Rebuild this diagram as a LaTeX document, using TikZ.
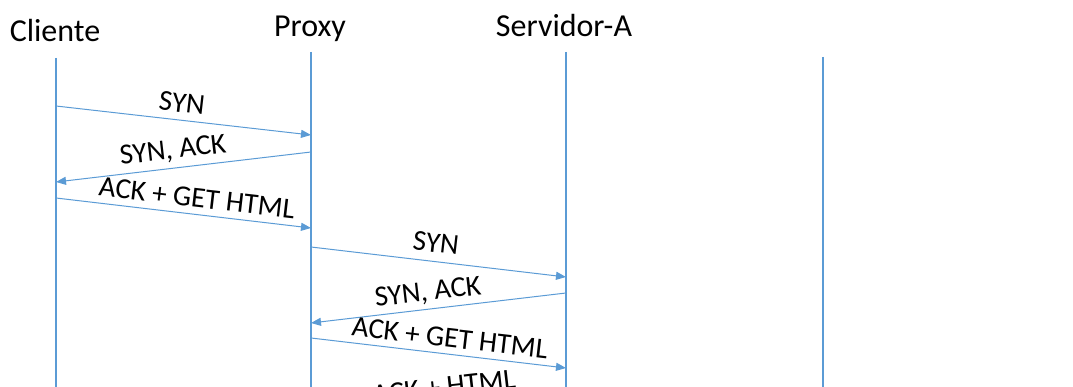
\documentclass[tikz,border=0pt]{standalone}
\usepackage{fontspec}
\setmainfont{Carlito}
\usetikzlibrary{arrows.meta}
\definecolor{lineblue}{RGB}{91,155,213}
\begin{document}
\begin{tikzpicture}[x=1pt,y=-1pt,
  head/.style={font=\fontsize{32}{38}\selectfont, anchor=base, inner sep=0pt},
  lbl/.style={font=\fontsize{29}{34}\selectfont, inner sep=0pt},
  life/.style={draw=lineblue, line width=1.1pt},
  msg/.style={draw=lineblue, line width=1pt, -{Triangle[length=10pt,width=8pt]}}]
\useasboundingbox (0,0) rectangle (1073,387);
\clip (0,0) rectangle (1073,387);
% headers
\node[head] (cli) at (55,42) {Cliente};
\node[head] (pro) at (310,37) {Proxy};
\node[head] (srv) at (564,37) {Servidor-A};
% lifelines
\coordinate (cT) at (56,58);  \coordinate (cB) at (56,400);
\coordinate (pT) at (311,52); \coordinate (pB) at (311,400);
\coordinate (sT) at (566,52); \coordinate (sB) at (566,400);
\coordinate (dT) at (823,57); \coordinate (dB) at (823,400);
\draw[life] (cT) -- (cB);
\draw[life] (pT) -- (pB);
\draw[life] (sT) -- (sB);
\draw[life] (dT) -- (dB);
% message end points
\coordinate (m1a) at (56,106);  \coordinate (m1b) at (311,135);
\coordinate (m2a) at (311,152); \coordinate (m2b) at (56,182);
\coordinate (m3a) at (56,198);  \coordinate (m3b) at (311,228);
\coordinate (m4a) at (311,247); \coordinate (m4b) at (566,277);
\coordinate (m5a) at (566,293); \coordinate (m5b) at (311,323);
\coordinate (m6a) at (311,338); \coordinate (m6b) at (566,368);
\draw[msg] (m1a) -- (m1b);
\draw[msg] (m2a) -- (m2b);
\draw[msg] (m3a) -- (m3b);
\draw[msg] (m4a) -- (m4b);
\draw[msg] (m5a) -- (m5b);
\draw[msg] (m6a) -- (m6b);
% labels
\node[lbl, rotate=-6.6] (l1) at (182,103) {SYN};
\node[lbl, rotate=6.6]  (l2) at (173,151) {SYN, ACK};
\node[lbl, rotate=-6.6] (l3) at (197,198) {ACK + GET HTML};
\node[lbl, rotate=-6.6] (l4) at (436,243) {SYN};
\node[lbl, rotate=6.6]  (l5) at (428,293) {SYN, ACK};
\node[lbl, rotate=-6.6] (l6) at (450,338) {ACK + GET HTML};
\node[lbl, rotate=6.6]  (l7) at (444,387) {ACK + HTML};
\end{tikzpicture}
\end{document}
